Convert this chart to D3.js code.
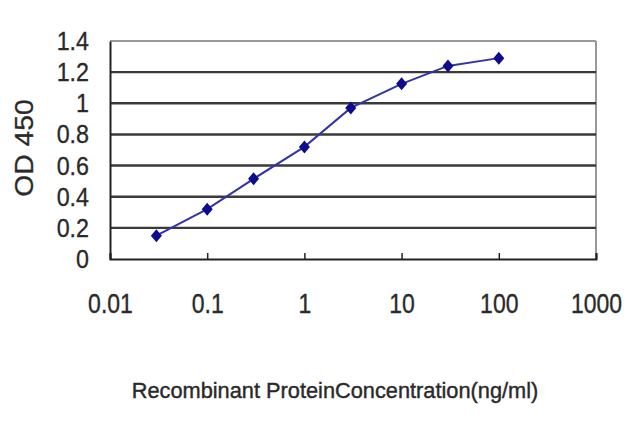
<!DOCTYPE html>
<html><head><meta charset="utf-8">
<script src="https://cdn.jsdelivr.net/npm/d3@7"></script>
<style>
html,body{margin:0;padding:0;background:#fff;}
svg{display:block;}
text{font-family:"Liberation Sans",Arial,sans-serif;fill:#2a2a2a;}
</style></head>
<body>
<script>
const concentrations = [0.03, 0.1, 0.3, 1, 3, 10, 30, 100];
const od450 = [0.15, 0.32, 0.515, 0.72, 0.97, 1.125, 1.24, 1.29];
const xTicks = [0.01, 0.1, 1, 10, 100, 1000];
const xTickLabels = ["0.01", "0.1", "1", "10", "100", "1000"];
const yTicks = [0, 0.2, 0.4, 0.6, 0.8, 1, 1.2, 1.4];
const yTickLabels = ["0", "0.2", "0.4", "0.6", "0.8", "1", "1.2", "1.4"];
const xTitle = "Recombinant ProteinConcentration(ng/ml)";
const yTitle = "OD 450";

const W = 640, H = 427;
const L = 110, R = 596, T = 41, B = 259;

const svg = d3.select("body").append("svg").attr("width", W).attr("height", H);

const x = d3.scaleLog().domain([0.01, 1000]).range([L, R]);
const y = d3.scaleLinear().domain([0, 1.4]).range([B, T]);

// frame top/right in gray
svg.append("line").attr("x1", L).attr("x2", R).attr("y1", T).attr("y2", T)
  .attr("stroke", "#999").attr("stroke-width", 2);
svg.append("line").attr("x1", R).attr("x2", R).attr("y1", T).attr("y2", B)
  .attr("stroke", "#999").attr("stroke-width", 2);

// gridlines
svg.append("g").selectAll("line").data(yTicks.filter(v => v > 0 && v < 1.4)).join("line")
  .attr("x1", L).attr("x2", R).attr("y1", d => y(d)).attr("y2", d => y(d))
  .attr("stroke", "#3a3a3a").attr("stroke-width", 2.4);

// y axis
const yAxis = svg.append("g").attr("transform", `translate(${L},0)`)
  .call(d3.axisLeft(y).tickValues(yTicks).tickFormat((d, i) => yTickLabels[i]).tickSize(0).tickPadding(0));
yAxis.select(".domain").attr("stroke", "#222").attr("stroke-width", 2);
yAxis.selectAll("text")
  .attr("x", null).attr("dy", null)
  .attr("text-anchor", "end")
  .attr("font-size", 24)
  .attr("stroke", "#2a2a2a").attr("stroke-width", 0.3)
  .attr("transform", `translate(-21,8.5) scale(0.97,1.04)`);

// x axis
const xAxis = svg.append("g").attr("transform", `translate(0,${B})`)
  .call(d3.axisBottom(x).tickValues(xTicks).tickFormat((d, i) => xTickLabels[i]).tickSize(-6).tickPadding(0));
xAxis.select(".domain").attr("stroke", "#222").attr("stroke-width", 2);
xAxis.selectAll(".tick line").attr("stroke", "#222").attr("stroke-width", 1.5);
xAxis.selectAll("text")
  .attr("y", null).attr("dy", null)
  .attr("text-anchor", "middle")
  .attr("font-size", 24)
  .attr("stroke", "#2a2a2a").attr("stroke-width", 0.3)
  .attr("transform", `translate(0,54) scale(0.96,1.12)`);

// line
const pts = concentrations.map((c, i) => [c, od450[i]]);
svg.append("path").datum(pts)
  .attr("fill", "none").attr("stroke", "#3434a6").attr("stroke-width", 2)
  .attr("d", d3.line().x(d => x(d[0])).y(d => y(d[1])));

// markers
svg.append("g").selectAll("path").data(pts).join("path")
  .attr("transform", d => `translate(${x(d[0])},${y(d[1])})`)
  .attr("d", "M0,-6.5L5.5,0L0,6.5L-5.5,0Z")
  .attr("fill", "#0c0c8c");

// titles
svg.append("text").attr("x", 0).attr("y", 0)
  .attr("text-anchor", "middle").attr("font-size", 25)
  .attr("stroke", "#2a2a2a").attr("stroke-width", 0.3)
  .attr("transform", `translate(33,148) rotate(-90) scale(1.13,1)`)
  .text(yTitle);

svg.append("text").attr("x", 0).attr("y", 0)
  .attr("text-anchor", "middle").attr("font-size", 22)
  .attr("stroke", "#2a2a2a").attr("stroke-width", 0.4)
  .attr("transform", `translate(335,398) scale(0.99,1.04)`)
  .text(xTitle);
</script>
</body></html>
